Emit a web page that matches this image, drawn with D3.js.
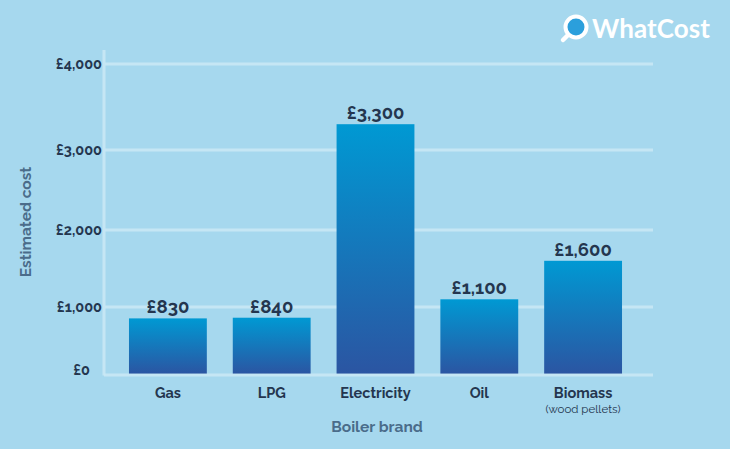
<!DOCTYPE html>
<html><head><meta charset="utf-8">
<script src="https://cdn.jsdelivr.net/npm/d3@7"></script>
<style>body{margin:0;background:#a6d8ee;}svg{display:block;}</style>
</head><body>
<svg id="c" width="730" height="449"></svg>
<script>
const categories = ["Gas","LPG","Electricity","Oil","Biomass"];
const subLabels = ["","","","","(wood pellets)"];
const values = [830,840,3300,1100,1600];
const valueLabels = ["£830","£840","£3,300","£1,100","£1,600"];
const tickValues = [0,1000,2000,3000,4000];
const tickLabels = ["£0","£1,000","£2,000","£3,000","£4,000"];

const svg = d3.select("#c");
const W=730,H=449;
svg.append("rect").attr("width",W).attr("height",H).attr("fill","#a6d8ee");

const defs = svg.append("defs");
const g = defs.append("linearGradient").attr("id","bg").attr("x1",0).attr("y1",0).attr("x2",0).attr("y2",1);
g.append("stop").attr("offset","0%").attr("stop-color","#0099d3");
g.append("stop").attr("offset","100%").attr("stop-color","#2b55a2");

const x = d3.scaleBand().domain(categories).range([116,635]).paddingInner(0.25).paddingOuter(0.125);
const y = d3.scaleLinear().domain(tickValues).range([374,307,230,150,64]);

const font = "Raleway, Lato, 'Open Sans', sans-serif";
const dark = "#24364f";
const lineCol = "#cbe9f6";

// gridlines
svg.append("g").selectAll("line").data(tickValues.slice(1)).join("line")
  .attr("x1",105).attr("x2",653).attr("y1",d=>y(d)).attr("y2",d=>y(d))
  .attr("stroke",lineCol).attr("stroke-width",3).attr("opacity",0.85);

// bars
svg.append("g").selectAll("rect").data(values).join("rect")
  .attr("x",(d,i)=>x(categories[i])).attr("width",x.bandwidth())
  .attr("y",d=>y(d)).attr("height",d=>y(0)-y(d))
  .attr("fill","url(#bg)");

// axis lines
svg.append("line").attr("x1",104).attr("x2",104).attr("y1",50).attr("y2",375.5)
  .attr("stroke",lineCol).attr("stroke-width",3).attr("opacity",0.85);
svg.append("line").attr("x1",104).attr("x2",653).attr("y1",y(0)+1).attr("y2",y(0)+1)
  .attr("stroke",lineCol).attr("stroke-width",3).attr("opacity",0.85);

// y tick labels
svg.append("g").selectAll("text").data(tickValues).join("text")
  .attr("x",102).attr("y",(d,i)=>i===0?y(d)+1:y(d)+5)
  .attr("text-anchor","end").attr("font-family",font).attr("font-weight",700)
  .attr("font-size",14.5).attr("fill",dark)
  .attr("dx",(d,i)=>i===0?-12:0)
  .text((d,i)=>tickLabels[i]);

// value labels
svg.append("g").selectAll("text").data(values).join("text")
  .attr("x",(d,i)=>x(categories[i])+x.bandwidth()/2).attr("y",d=>y(d)-5)
  .attr("text-anchor","middle").attr("font-family",font).attr("font-weight",700)
  .attr("font-size",18.5).attr("fill",dark)
  .text((d,i)=>valueLabels[i]);

// category labels
svg.append("g").selectAll("text").data(categories).join("text")
  .attr("x",d=>x(d)+x.bandwidth()/2).attr("y",398)
  .attr("text-anchor","middle").attr("font-family",font).attr("font-weight",700)
  .attr("font-size",14.5).attr("fill",dark).text(d=>d);
svg.append("g").selectAll("text").data(subLabels).join("text")
  .attr("x",(d,i)=>x(categories[i])+x.bandwidth()/2).attr("y",413)
  .attr("text-anchor","middle").attr("font-family",font)
  .attr("font-size",11.5).attr("fill",dark).text(d=>d);

// axis titles
svg.append("text").attr("x",377).attr("y",432).attr("text-anchor","middle")
  .attr("font-family",font).attr("font-weight",700).attr("font-size",15.5)
  .attr("fill","#4a6c8a").text("Boiler brand");
svg.append("text").attr("transform","translate(31,222) rotate(-90)").attr("text-anchor","middle")
  .attr("font-family",font).attr("font-weight",700).attr("font-size",15.5)
  .attr("fill","#4a6c8a").text("Estimated cost");

// logo
const logo = svg.append("g");
logo.append("line").attr("x1",563).attr("y1",40).attr("x2",569).attr("y2",34)
  .attr("stroke","#fff").attr("stroke-width",4.5).attr("stroke-linecap","round");
logo.append("circle").attr("cx",576).attr("cy",27).attr("r",10.5).attr("fill","#2b9fdc")
  .attr("stroke","#fff").attr("stroke-width",4);
logo.append("text").attr("x",592).attr("y",38).attr("font-family","Lato, 'Open Sans', sans-serif")
  .attr("font-weight",700).attr("font-size",26).attr("fill","#fff").attr("textLength",118)
  .text("WhatCost");
</script>
</body></html>
